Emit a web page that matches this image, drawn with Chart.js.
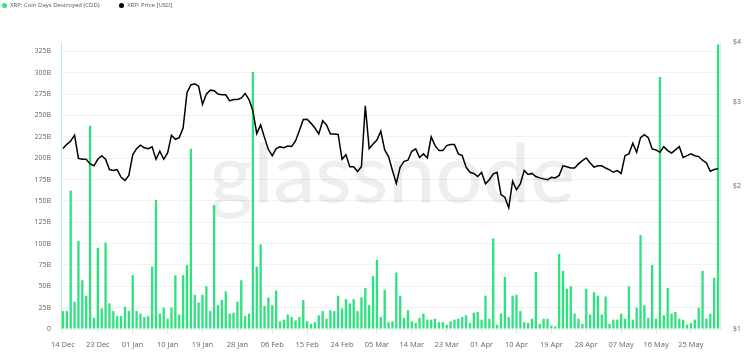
<!DOCTYPE html>
<html>
<head>
<meta charset="utf-8">
<script src="https://cdn.jsdelivr.net/npm/chart.js@4.4.1/dist/chart.umd.min.js"></script>
<style>
    body { margin: 0; background: #fff; }
    .mycontainer { position: relative; width: 750px; height: 364px; }
    .legend { position: absolute; top: 0; left: 2px; font-family: "Open Sans", sans-serif; font-size: 6px; color: #555; line-height: 10px; }
    .legend span { display: inline-block; margin-right: 18px; }
    .legend i { display: inline-block; width: 5px; height: 5px; border-radius: 50%; margin-right: 3px; vertical-align: -0.5px; }
</style>
</head>
<body>
<div class="mycontainer">
    <div class="legend">
        <span><i style="background:#2fe27f"></i>XRP: Coin Days Destroyed (CDD)</span>
        <span><i style="background:#000"></i>XRP: Price [USD]</span>
    </div>
    <canvas id="myChart" width="750" height="364"></canvas>
</div>
<script>
// daily values, first day 14 Dec 2024
var startDate = new Date(2024, 11, 14);

var tickLabels = ['14 Dec', '23 Dec', '01 Jan', '10 Jan', '19 Jan', '28 Jan', '06 Feb', '15 Feb', '24 Feb',
    '05 Mar', '14 Mar', '23 Mar', '01 Apr', '10 Apr', '19 Apr', '28 Apr', '07 May', '16 May', '25 May'];

// left axis ticks (billions) and right axis ticks (USD)
var cddTicks = [0, 25, 50, 75, 100, 125, 150, 175, 200, 225, 250, 275, 300, 325];
var priceTicks = [1, 2, 3, 4];

// Coin Days Destroyed, billions
var cdd = [21, 21, 162, 32, 103, 57, 39, 238, 13, 95, 24, 101, 30, 21, 15, 15, 26, 21, 63, 21,
    18, 14, 15, 73, 151, 18, 25, 12, 25, 63, 17, 63, 75, 211, 40, 31, 40, 50, 21, 145,
    28, 34, 44, 18, 19, 32, 57, 15, 18, 301, 73, 99, 27, 37, 28, 45, 9, 11, 17, 14,
    10, 14, 34, 9, 6, 8, 16, 21, 12, 22, 21, 39, 24, 35, 30, 35, 21, 37, 48, 28,
    62, 81, 14, 46, 8, 9, 66, 39, 13, 22, 9, 7, 13, 18, 11, 11, 12, 8, 8, 5,
    9, 11, 12, 14, 16, 7, 19, 20, 11, 39, 12, 106, 5, 18, 61, 14, 39, 40, 21, 8,
    7, 12, 67, 6, 12, 12, 4, 3, 88, 68, 47, 50, 18, 12, 6, 47, 17, 43, 39, 17,
    38, 6, 11, 11, 18, 12, 50, 11, 25, 110, 28, 13, 75, 12, 295, 16, 48, 18, 20, 12,
    11, 5, 7, 11, 25, 68, 12, 18, 60, 333];

// price USD
var price = [2.39, 2.44, 2.48, 2.55, 2.28, 2.27, 2.27, 2.22, 2.20, 2.27, 2.31, 2.27, 2.16, 2.15, 2.16, 2.08, 2.05, 2.10, 2.32, 2.39,
    2.43, 2.40, 2.39, 2.41, 2.27, 2.36, 2.27, 2.34, 2.55, 2.50, 2.52, 2.64, 3.13, 3.25, 3.27, 3.23, 2.96, 3.11, 3.17, 3.16,
    3.11, 3.10, 3.10, 3.01, 3.03, 3.03, 3.05, 3.12, 3.03, 2.87, 2.57, 2.68, 2.52, 2.38, 2.31, 2.39, 2.41, 2.40, 2.42, 2.415,
    2.48, 2.61, 2.75, 2.755, 2.70, 2.64, 2.565, 2.735, 2.68, 2.565, 2.565, 2.56, 2.27, 2.32, 2.19, 2.19, 2.14, 2.19, 2.94, 2.39,
    2.445, 2.49, 2.60, 2.375, 2.30, 2.15, 2.02, 2.186, 2.248, 2.26, 2.36, 2.387, 2.29, 2.33, 2.285, 2.53, 2.425, 2.367, 2.367, 2.425,
    2.437, 2.437, 2.33, 2.31, 2.186, 2.132, 2.12, 2.089, 2.13, 2.017, 2.056, 2.116, 2.132, 1.915, 1.89, 1.796, 2.042, 1.959, 2.017, 2.15,
    2.109, 2.12, 2.089, 2.075, 2.065, 2.056, 2.08, 2.075, 2.10, 2.20, 2.19, 2.176, 2.176, 2.22, 2.256, 2.285, 2.23, 2.186, 2.20, 2.20,
    2.176, 2.157, 2.132, 2.15, 2.12, 2.31, 2.33, 2.452, 2.348, 2.52, 2.557, 2.52, 2.387, 2.375, 2.348, 2.413, 2.367, 2.34, 2.375, 2.413,
    2.29, 2.31, 2.33, 2.31, 2.30, 2.26, 2.23, 2.142, 2.16, 2.17];

var months = ['Jan', 'Feb', 'Mar', 'Apr', 'May', 'Jun', 'Jul', 'Aug', 'Sep', 'Oct', 'Nov', 'Dec'];
var labels = [];
for (var i = 0; i < cdd.length; i++) {
    var d = new Date(startDate.getFullYear(), startDate.getMonth(), startDate.getDate() + i);
    labels.push(('0' + d.getDate()).slice(-2) + ' ' + months[d.getMonth()]);
}
var cddValues = cdd.map(function (v) { return v * 1e9; });

var watermark = {
    id: 'watermark',
    beforeDatasetsDraw: function (chart) {
        var c = chart.ctx;
        c.save();
        c.font = '500 84px Lato, Roboto, sans-serif';
        c.fillStyle = 'rgba(0,0,0,0.065)';
        c.textAlign = 'center';
        c.textBaseline = 'alphabetic';
        c.fillText('glassnode', 392, 203);
        c.restore();
    }
};

var tickFont = { family: '"Open Sans", sans-serif', size: 7 };

var ctx = document.getElementById('myChart').getContext('2d');
var chart = new Chart(ctx, {
    type: 'bar',
    data: {
        labels: labels,
        datasets: [{
            type: 'line',
            label: 'XRP: Price [USD]',
            data: price,
            yAxisID: 'yPrice',
            borderColor: '#000',
            borderWidth: 1.5,
            pointRadius: 0,
            tension: 0,
            order: 0
        }, {
            label: 'XRP: Coin Days Destroyed (CDD)',
            data: cddValues,
            yAxisID: 'y',
            backgroundColor: '#2fe27f',
            barPercentage: 0.6,
            categoryPercentage: 1,
            order: 1
        }]
    },
    options: {
        responsive: false,
        animation: false,
        layout: { padding: { top: 42, left: 0, right: 0, bottom: 0 } },
        plugins: { legend: { display: false }, tooltip: { enabled: false } },
        scales: {
            x: {
                grid: { drawOnChartArea: false, offset: false, tickLength: 4, color: '#e4e4e4' },
                border: { color: '#eeeeee' },
                ticks: { autoSkip: false, maxRotation: 0, padding: 7, color: '#666', font: { family: '"Open Sans", sans-serif', size: 7.5 } },
                afterBuildTicks: function (scale) {
                    scale.ticks = scale.ticks.filter(function (t) { return tickLabels.indexOf(labels[t.value]) >= 0; });
                },
                afterFit: function (scale) { scale.height = 35; }
            },
            y: {
                position: 'left',
                min: 0,
                max: 336e9,
                grid: { color: '#f1f1f1', drawTicks: false },
                border: { color: 'rgba(47,226,127,0.35)' },
                ticks: {
                    padding: 10,
                    color: '#666',
                    font: tickFont,
                    callback: function (v) { return v === 0 ? '0' : Math.round(v / 1e9) + 'B'; }
                },
                afterBuildTicks: function (scale) {
                    scale.ticks = cddTicks.map(function (v) { return { value: v * 1e9 }; });
                },
                afterFit: function (scale) { scale.width = 61; }
            },
            yPrice: {
                type: 'logarithmic',
                position: 'right',
                min: 1,
                max: 4,
                grid: { drawOnChartArea: false, drawTicks: false },
                border: { color: '#e8e8e8' },
                ticks: {
                    padding: 13,
                    color: '#666',
                    font: tickFont,
                    callback: function (v) { return '$' + v; }
                },
                afterBuildTicks: function (scale) {
                    scale.ticks = priceTicks.map(function (v) { return { value: v }; });
                },
                afterFit: function (scale) { scale.width = 30; }
            }
        }
    },
    plugins: [watermark]
});
</script>
</body>
</html>
